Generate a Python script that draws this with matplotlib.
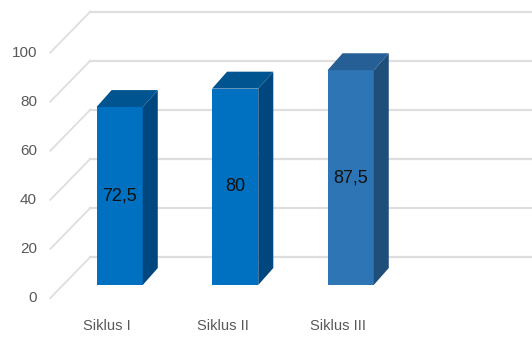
import numpy as np
import matplotlib.pyplot as plt

categories = ['Siklus I', 'Siklus II', 'Siklus III']
values = [72.5, 80, 87.5]
labels = ['72,5', '80', '87,5']
yticks = [0, 20, 40, 60, 80, 100]

front_cols = ['#0070c0', '#0070c0', '#2e75b6']
side_cols = ['#00467f', '#00467f', '#1f4e79']
top_cols = ['#00548f', '#00548f', '#265f96']

plt.rcParams['font.family'] = ['Liberation Sans', 'DejaVu Sans']

# pseudo 3d geometry, x in category units, y in value units
floor_dx, floor_dy = 0.346, 16.7     # depth of the chart box
bar_x0, bar_y0 = 0.11, 5.3           # front face of bars sits a bit inside
bar_dx, bar_dy = 0.13, 6.9           # depth of a bar
bar_w = 0.4
left = -0.49

fig = plt.figure(figsize=(5.32, 3.38), dpi=100)
ax = fig.add_axes([0, 0, 1, 1])
ax.set_xlim(-0.926, 3.68)
ax.set_ylim(-16.3, 121.4)
ax.axis('off')

grid_c = '#dedede'
for v in yticks:
    ax.plot([left, left + floor_dx], [v, v + floor_dy], color=grid_c, lw=1.3, zorder=1)
    ax.plot([left + floor_dx, 3.68], [v + floor_dy, v + floor_dy], color=grid_c, lw=1.6, zorder=1)
    ax.text(left - 0.115, v, str(v), ha='right', va='center', fontsize=11, color='#595959')

x = np.arange(len(categories))
for i, v in enumerate(values):
    x0 = x[i] - bar_w / 2 + bar_x0
    x1 = x0 + bar_w
    y0 = bar_y0
    y1 = v + bar_y0
    # front
    ax.fill([x0, x1, x1, x0], [y0, y0, y1, y1], color=front_cols[i], zorder=3, lw=0)
    # side
    ax.fill([x1, x1 + bar_dx, x1 + bar_dx, x1], [y0, y0 + bar_dy, y1 + bar_dy, y1],
            color=side_cols[i], zorder=3, lw=0)
    # top
    ax.fill([x0, x1, x1 + bar_dx, x0 + bar_dx], [y1, y1, y1 + bar_dy, y1 + bar_dy],
            color=top_cols[i], zorder=3, lw=0)
    ax.text((x0 + x1) / 2, (y0 + y1) / 2, labels[i], ha='center', va='center',
            fontsize=13, color='#111111', zorder=4)
    ax.text(x[i], -11.3, categories[i], ha='center', va='center', fontsize=10.5, color='#595959')

plt.savefig('out.png', dpi=100)
